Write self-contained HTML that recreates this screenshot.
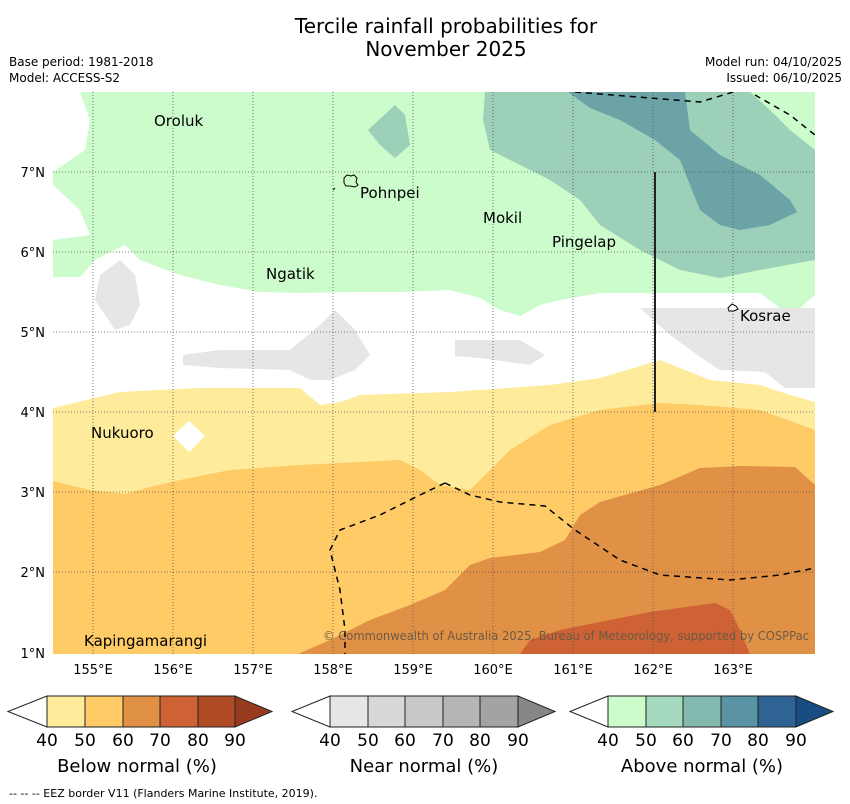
<!DOCTYPE html>
<html><head><meta charset="utf-8"><style>
body{margin:0;background:#fff;width:850px;height:804px;overflow:hidden;font-family:"DejaVu Sans","Liberation Sans",sans-serif}
svg{position:absolute;left:0;top:0}
</style></head><body>
<svg width="850" height="804" viewBox="0 0 850 804">
<text x="446" y="33" text-anchor="middle" font-size="20">Tercile rainfall probabilities for</text>
<text x="446" y="56" text-anchor="middle" font-size="20">November 2025</text>
<text x="9" y="66" font-size="12">Base period: 1981-2018</text>
<text x="9" y="82" font-size="12">Model: ACCESS-S2</text>
<text x="842" y="66" font-size="12" text-anchor="end">Model run: 04/10/2025</text>
<text x="842" y="82" font-size="12" text-anchor="end">Issued: 06/10/2025</text>
<defs><clipPath id="mc"><rect x="53" y="92" width="762" height="562"/></clipPath></defs>
<g clip-path="url(#mc)">
<rect x="53" y="92" width="762" height="562" fill="#fff"/>
<polygon fill="#ccfccb" points="80,92 815,92 815,295 800,308 780,308 760,293 700,293 600,293 560,300 540,305 520,316 500,310 480,298 450,290 400,292 350,292 300,293 260,292 220,285 180,275 140,260 125,245 110,252 95,260 80,277 53,277 53,240 90,235 80,210 53,185 53,172 85,150 90,120"/>
<polygon fill="#9dd0b8" points="485,92 815,92 815,260 760,270 720,278 680,270 640,250 600,225 580,200 550,180 510,160 490,150 483,120"/>
<polygon fill="#9dd0b8" points="368,130 395,105 405,115 410,145 395,158 380,145"/>
<polygon fill="#6ba3a6" points="568,92 685,92 690,130 720,155 760,175 790,200 797,212 770,225 740,230 720,225 700,210 688,180 680,160 655,140 620,120 590,108"/>
<polygon fill="#ccfccb" points="750,92 815,92 815,150 790,130 770,110"/>
<polygon fill="#e6e6e6" points="95,300 100,275 120,260 135,275 140,305 130,325 115,330"/>
<polygon fill="#e6e6e6" points="183,355 220,350 290,350 320,325 335,310 355,330 370,355 355,370 330,380 310,380 290,370 220,368 183,365"/>
<polygon fill="#e6e6e6" points="455,340 520,340 545,355 530,365 480,358 455,356"/>
<polygon fill="#e6e6e6" points="640,308 815,308 815,388 785,388 765,372 720,370 700,357 670,335"/>
<polygon fill="#ffeb9c" points="53,408 120,392 200,388 300,388 320,405 340,402 360,395 450,392 550,385 600,378 640,366 660,360 690,372 710,380 760,385 790,395 815,402 815,654 53,654"/>
<polygon fill="#fff" points="189,421 205,436 189,452 173,436"/>
<polygon fill="#fecb67" points="53,481 90,490 125,494 150,487 180,480 230,470 300,465 360,462 400,460 420,470 440,485 470,490 490,470 510,450 550,425 600,410 660,403 700,405 760,410 815,430 815,654 53,654"/>
<polygon fill="#e09146" points="298,654 330,640 370,620 410,605 445,590 470,565 490,558 540,552 565,540 580,515 600,502 660,485 700,468 740,466 795,467 815,485 815,654"/>
<polygon fill="#ce6234" points="520,654 530,640 560,630 600,622 650,612 715,603 730,610 740,630 750,654"/>
<g stroke="#555" stroke-width="0.8" stroke-dasharray="1,2">
<line x1="93" y1="92" x2="93" y2="654"/><line x1="173" y1="92" x2="173" y2="654"/><line x1="253" y1="92" x2="253" y2="654"/><line x1="333" y1="92" x2="333" y2="654"/><line x1="413" y1="92" x2="413" y2="654"/><line x1="493" y1="92" x2="493" y2="654"/><line x1="573" y1="92" x2="573" y2="654"/><line x1="653" y1="92" x2="653" y2="654"/><line x1="733" y1="92" x2="733" y2="654"/>
<line x1="53" y1="172" x2="815" y2="172"/><line x1="53" y1="252" x2="815" y2="252"/><line x1="53" y1="332" x2="815" y2="332"/><line x1="53" y1="412" x2="815" y2="412"/><line x1="53" y1="492" x2="815" y2="492"/><line x1="53" y1="572" x2="815" y2="572"/>
</g>
<g fill="none" stroke="#000" stroke-width="1.5" stroke-dasharray="6,5">
<polyline points="445,483 470,495 500,502 545,506 575,530 620,560 660,575 730,580 780,575 815,568"/>
<polyline points="445,483 420,495 380,515 340,530 330,550 340,590 345,630 345,654"/>
<polyline points="575,92 700,102 740,90"/>
<polyline points="755,95 790,115 815,135"/>
</g>
<line x1="655" y1="172" x2="655" y2="412" stroke="#222" stroke-width="2"/>
<path d="M344,178 l3,-3 4,1 3,-1 3,3 -1,4 2,3 -3,2 -5,-1 -4,0 -2,-3z" fill="none" stroke="#000" stroke-width="1"/>
<path d="M333,190 l2,-2" stroke="#000"/>
<path d="M728,308 l4,-4 4,2 2,3 -4,2 -5,0z" fill="#fff" stroke="#000" stroke-width="1"/>
<g font-size="15" fill="#000">
<text x="154" y="126">Oroluk</text>
<text x="360" y="198">Pohnpei</text>
<text x="483" y="223">Mokil</text>
<text x="552" y="247">Pingelap</text>
<text x="266" y="279">Ngatik</text>
<text x="740" y="321">Kosrae</text>
<text x="91" y="438">Nukuoro</text>
<text x="84" y="646">Kapingamarangi</text>
</g>
<text x="323" y="640" font-size="12" fill="#6b5a45" textLength="486" lengthAdjust="spacingAndGlyphs">© Commonwealth of Australia 2025, Bureau of Meteorology, supported by COSPPac</text>
</g>
<g font-size="13">
<text x="45" y="177" text-anchor="end">7°N</text><text x="45" y="257" text-anchor="end">6°N</text><text x="45" y="337" text-anchor="end">5°N</text><text x="45" y="417" text-anchor="end">4°N</text><text x="45" y="497" text-anchor="end">3°N</text><text x="45" y="577" text-anchor="end">2°N</text><text x="45" y="658" text-anchor="end">1°N</text>
</g>
<g font-size="13" text-anchor="middle">
<text x="93" y="674">155°E</text><text x="173" y="674">156°E</text><text x="253" y="674">157°E</text><text x="333" y="674">158°E</text><text x="413" y="674">159°E</text><text x="493" y="674">160°E</text><text x="573" y="674">161°E</text><text x="653" y="674">162°E</text><text x="733" y="674">163°E</text>
</g>
<g stroke="#222" stroke-width="1">
<polygon points="47,696 47,727 8,711.5" fill="#fff"/>
<rect x="47" y="696" width="38" height="31" fill="#ffeb9c"/><rect x="85" y="696" width="38" height="31" fill="#fecb67"/><rect x="123" y="696" width="37" height="31" fill="#e09146"/><rect x="160" y="696" width="38" height="31" fill="#ce6234"/><rect x="198" y="696" width="37" height="31" fill="#b04c25"/>
<polygon points="235,696 235,727 272,711.5" fill="#983a1e"/>
</g>
<g stroke="#222" stroke-width="1">
<polygon points="330,696 330,727 292,711.5" fill="#fff"/>
<rect x="330" y="696" width="38" height="31" fill="#e6e6e6"/><rect x="368" y="696" width="37" height="31" fill="#d8d8d8"/><rect x="405" y="696" width="38" height="31" fill="#c8c8c8"/><rect x="443" y="696" width="37" height="31" fill="#b5b5b5"/><rect x="480" y="696" width="38" height="31" fill="#a3a3a3"/>
<polygon points="518,696 518,727 555,711.5" fill="#878787"/>
</g>
<g stroke="#222" stroke-width="1">
<polygon points="608,696 608,727 570,711.5" fill="#fff"/>
<rect x="608" y="696" width="38" height="31" fill="#ccfccb"/><rect x="646" y="696" width="37" height="31" fill="#a6dabe"/><rect x="683" y="696" width="38" height="31" fill="#84b9b0"/><rect x="721" y="696" width="37" height="31" fill="#5a93a3"/><rect x="758" y="696" width="38" height="31" fill="#2f6393"/>
<polygon points="796,696 796,727 833,711.5" fill="#174d83"/>
</g>
<g font-size="17" text-anchor="middle">
<text x="47" y="746">40</text><text x="85" y="746">50</text><text x="123" y="746">60</text><text x="160" y="746">70</text><text x="198" y="746">80</text><text x="235" y="746">90</text>
<text x="330" y="746">40</text><text x="368" y="746">50</text><text x="405" y="746">60</text><text x="443" y="746">70</text><text x="480" y="746">80</text><text x="518" y="746">90</text>
<text x="608" y="746">40</text><text x="646" y="746">50</text><text x="683" y="746">60</text><text x="721" y="746">70</text><text x="758" y="746">80</text><text x="796" y="746">90</text>
</g>
<g font-size="18" text-anchor="middle">
<text x="137" y="772">Below normal (%)</text><text x="424" y="772">Near normal (%)</text><text x="702" y="772">Above normal (%)</text>
</g>
<text x="9" y="797" font-size="11">--  --  -- EEZ border V11 (Flanders Marine Institute, 2019).</text>
</svg>
</body></html>
